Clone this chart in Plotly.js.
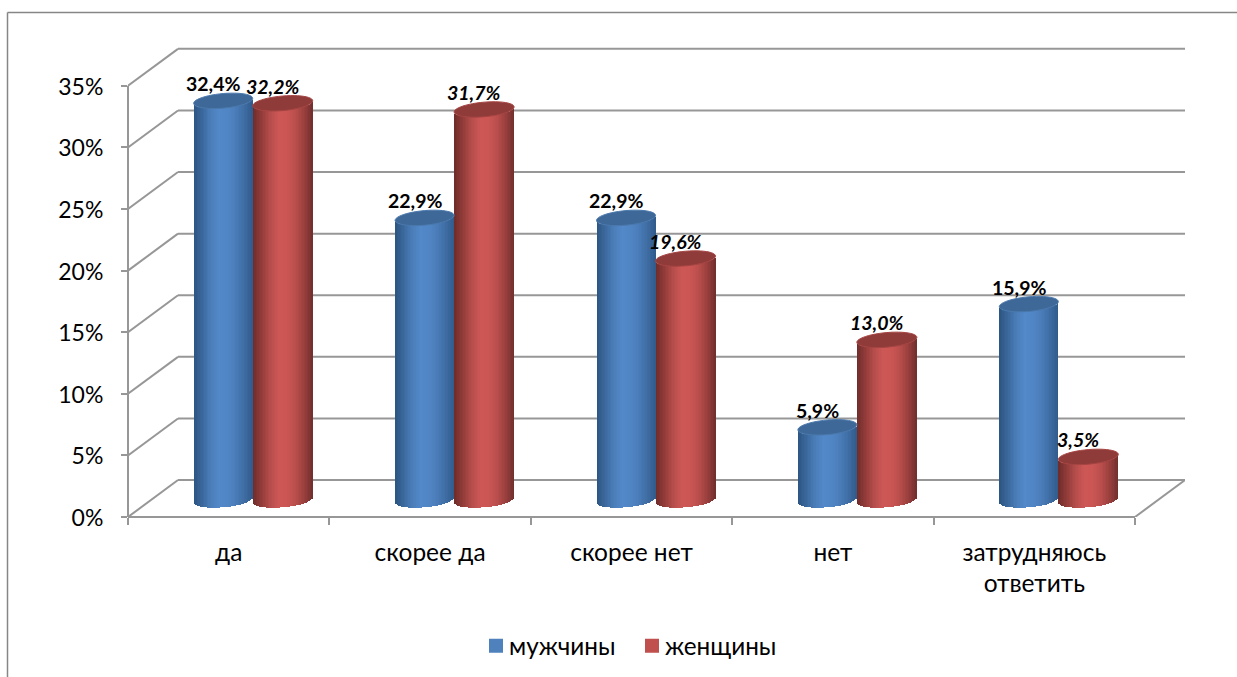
<!DOCTYPE html>
<html><head><meta charset="utf-8">
<script src="https://cdn.plot.ly/plotly-3.0.1.min.js"></script>
<style>html,body{margin:0;padding:0;background:#fff}#chart{width:1237px;height:677px}</style>
</head><body><div id="chart"></div>
<script>
const categories = ["да","скорее да","скорее нет","нет","затрудняюсь<br>ответить"];
const men   = [32.4,22.9,22.9,5.9,15.9];
const women = [32.2,31.7,19.6,13.0,3.5];
const yTicks = [0,5,10,15,20,25,30,35];
const yTickLabels = ["0%","5%","10%","15%","20%","25%","30%","35%"];
const seriesNames = ["мужчины","женщины"];

const FONT = "Lato, 'Open Sans', 'Noto Sans', sans-serif";
const GRID = "#979797";
const W=1237,H=677, ML=128, MR=52, MT=44, MB=160;
const PW=W-ML-MR, PH=H-MT-MB;
const PX_X=201.4, PX_Y=12.32;
const xRange=[-0.5,-0.5+PW/PX_X];
const yRange=[0,PH/PX_Y];
const y2Zero=17/PX_Y;               // cylinders stand mid-depth on the floor
const y2Range=[-y2Zero,yRange[1]-y2Zero];
const depthY=3.0, depthX=50/PX_X;
const B=7.3, TILT=2.5;              // ellipse half-height and tilt, px

const styles=[
 {values:men,  off:-5.5/PX_X, barW:59/PX_X, flat:"#4F81BD", stops:["#2b5482","#3b689c","#4a7db8","#5388c9","#5186c5","#4a7cb9","#3f6da3","#2f5a8c"], top:"#3e6897", rim:"#4b79ad", italic:false},
 {values:women,off:54/PX_X, barW:60/PX_X, flat:"#C0504D", stops:["#6e2c2a","#923c3a","#b44d4b","#cc5755","#cb5654","#b94e4c","#9a403e","#6f2e2c"], top:"#8f3b39", rim:"#a54543", italic:true}
];
const hex=c=>[1,3,5].map(i=>parseInt(c.substr(i,2),16));
function shade(stops,t){
  const p=t*(stops.length-1), i=Math.min(Math.floor(p),stops.length-2), f=p-i;
  const a=hex(stops[i]),b=hex(stops[i+1]);
  return "rgb("+a.map((v,k)=>Math.round(v+(b[k]-v)*f)).join(",")+")";
}
const N=40;
const traces=[], shapes=[], annotations=[];
const idx=categories.map((_,i)=>i);

// flat bars that carry the legend
styles.forEach((s,si)=>{
  traces.push({type:"bar",name:seriesNames[si],x:idx.map(i=>i+s.off),y:s.values,width:s.barW*0.8,
    xaxis:"x",yaxis:"y2",marker:{color:s.flat,line:{width:2,color:s.flat}},hoverinfo:"skip"});
});
// shaded strips of each cylinder
styles.forEach((s,si)=>{
  const A=s.barW/2;
  for(let k=0;k<N;k++){
    const u=(k+0.5)/N*2-1;
    const d=(B*Math.sqrt(1-u*u)-TILT*u)/PX_Y;
    traces.push({type:"bar",showlegend:false,x:idx.map(i=>i+s.off+u*A),y:s.values,
      base:s.values.map(()=>-d),width:s.barW/N,xaxis:"x",yaxis:"y2",
      marker:{color:shade(s.stops,(k+0.5)/N),line:{width:0}},hoverinfo:"skip"});
  }
  s.values.forEach((v,i)=>{
    let p="";
    for(let t=0;t<=48;t++){
      const th=t/48*2*Math.PI, c=Math.cos(th), sn=Math.sin(th);
      const xx=i+s.off+A*c, yy=v+(B*sn+TILT*c)/PX_Y;
      p+=(t?"L":"M")+xx+","+yy;
    }
    shapes.push({type:"path",path:p+"Z",xref:"x",yref:"y2",layer:"above",fillcolor:s.top,line:{color:s.rim,width:1}});
    annotations.push({x:i+s.off,y:v,xref:"x",yref:"y2",text:v.toFixed(1).replace(".",",")+"%",showarrow:false,
      xshift:-10,yshift:17,xanchor:"center",yanchor:"middle",
      font:{family:FONT,size:19.5,color:"#000",weight:"bold",style:s.italic?"italic":"normal"}});
  });
});
// walls and floor
const line=(x0,y0,x1,y1,xref,yref)=>({type:"line",x0,y0,x1,y1,xref:xref||"x",yref:yref||"y",layer:"below",line:{color:GRID,width:2}});
const back=[];
yTicks.forEach(v=>{
  back.push(line(-0.5,v,-0.5+depthX,v+depthY));
  back.push(line(-0.5+depthX,v+depthY,xRange[1],v+depthY));
});
back.push(line(0,0,0,35,"paper","y"));                     // vertical axis
back.push(line(-0.5,0,4.5,0,"x","paper"));                 // front edge of floor
back.push(line(4.5,0,4.5+depthX,depthY));                  // right edge of floor
// outer frame
const px=v=>(v-ML)/PW, py=v=>(H-MB-v)/PH;
const frameLine={color:"#868686",width:1.5};
const frame=[
 {type:"line",xref:"paper",yref:"paper",x0:px(7.5),x1:px(7.5),y0:py(12.5),y1:py(677),line:frameLine},
 {type:"line",xref:"paper",yref:"paper",x0:px(7.5),x1:px(1237),y0:py(12.5),y1:py(12.5),line:frameLine}
];

const layout={
  width:W,height:H,margin:{l:ML,r:MR,t:MT,b:MB,pad:0},
  paper_bgcolor:"#fff",plot_bgcolor:"rgba(0,0,0,0)",barmode:"overlay",bargap:0,bargroupgap:0,
  font:{family:FONT,size:24,color:"#000"},showlegend:true,
  xaxis:{range:xRange,showgrid:false,zeroline:false,showline:false,tickmode:"array",tickvals:idx,ticktext:categories,
    ticks:"",tickfont:{size:24.5},ticklabelstandoff:18,
    minor:{tickmode:"array",tickvals:[-0.5,0.5,1.5,2.5,3.5,4.5],ticks:"outside",ticklen:7,tickwidth:2,tickcolor:GRID}},
  yaxis:{range:yRange,showgrid:false,zeroline:false,showline:false,tickmode:"array",tickvals:yTicks,ticktext:yTickLabels,
    ticks:"outside",ticklen:6,tickwidth:2,tickcolor:GRID,tickfont:{size:23},ticklabelstandoff:13,ticklabelshift:1},
  yaxis2:{range:y2Range,overlaying:"y",visible:false,showgrid:false,zeroline:false},
  legend:{orientation:"h",xref:"container",yref:"container",x:476/W,y:(H-646)/H,xanchor:"left",yanchor:"middle",
    font:{size:24.3},itemwidth:30,entrywidth:111,entrywidthmode:"pixels",bgcolor:"rgba(0,0,0,0)"},
  shapes:frame.concat(back,shapes),annotations
};
Plotly.newPlot("chart",traces,layout,{staticPlot:true,displayModeBar:false}).then(gd=>{
  // tighten the gap between legend swatch and label
  gd.querySelectorAll(".legend .legendtext").forEach(t=>t.setAttribute("x",+t.getAttribute("x")-7));
});
</script></body></html>
